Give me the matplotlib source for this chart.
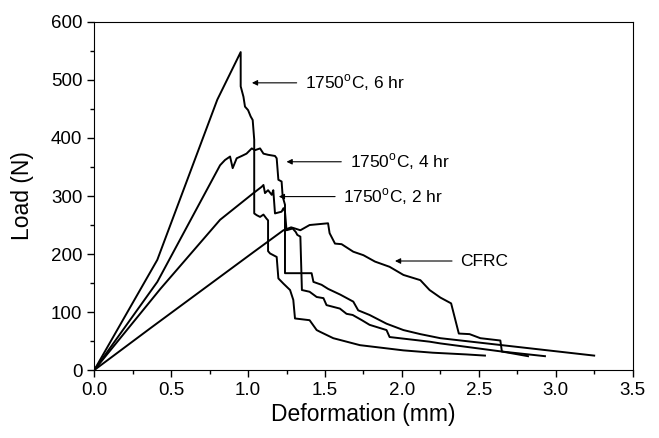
import matplotlib
matplotlib.use("Agg")
import matplotlib.pyplot as plt
from matplotlib.ticker import MultipleLocator

plt.rcParams['font.family'] = ['Liberation Sans', 'DejaVu Sans']
plt.rcParams['mathtext.fontset'] = 'custom'
plt.rcParams['mathtext.rm'] = 'Liberation Sans'

# deformation (mm) / load (N)
d_6hr = [0, 0.41, 0.80, 0.952, 0.952, 0.97, 0.98, 1.00, 1.017, 1.03, 1.04, 1.04, 1.056,
         1.078, 1.10, 1.12, 1.13, 1.13, 1.143, 1.186, 1.197, 1.23, 1.273, 1.294, 1.305,
         1.40, 1.446, 1.468, 1.554, 1.727, 2.01, 2.20, 2.42, 2.54]
L_6hr = [0, 190, 466, 548, 489, 471, 454, 448, 437, 431, 397, 270, 267,
         264, 268, 261, 258, 205, 201, 195, 158, 149, 138, 121, 89,
         86, 69, 66, 55, 43, 34, 30, 27, 25]

d_4hr = [0, 0.41, 0.818, 0.85, 0.883, 0.90, 0.926, 0.959, 0.99, 1.024, 1.045, 1.078,
         1.10, 1.13, 1.175, 1.186, 1.197, 1.218, 1.225, 1.24, 1.24, 1.413, 1.425,
         1.478, 1.52, 1.60, 1.684, 1.716, 1.79, 1.90, 2.01, 2.12, 2.25, 3.25]
L_4hr = [0, 152, 353, 362, 368, 348, 365, 369, 373, 382, 379, 382,
         373, 371, 369, 365, 328, 325, 299, 285, 167, 167, 152,
         147, 140, 130, 118, 103, 95, 80, 69, 62, 55, 25]

d_2hr = [0, 0.43, 0.818, 1.035, 1.089, 1.10, 1.11, 1.13, 1.154, 1.164, 1.175, 1.218,
         1.23, 1.24, 1.25, 1.29, 1.31, 1.32, 1.34, 1.35, 1.40, 1.446, 1.49, 1.51,
         1.597, 1.64, 1.68, 1.74, 1.79, 1.90, 1.92, 2.05, 2.18, 2.25, 2.65, 2.82]
L_2hr = [0, 140, 259, 305, 316, 319, 305, 310, 302, 310, 270, 273,
         279, 273, 241, 244, 238, 233, 230, 138, 135, 126, 124, 112,
         106, 97, 95, 86, 78, 69, 57, 53, 49, 46, 32, 24]

d_cfrc = [0, 0.364, 1.039, 1.23, 1.28, 1.305, 1.34, 1.40, 1.52, 1.53, 1.565, 1.608,
          1.684, 1.75, 1.825, 1.92, 2.01, 2.12, 2.18, 2.25, 2.32, 2.37, 2.44, 2.51,
          2.64, 2.65, 2.93]
L_cfrc = [0, 72, 204, 241, 246, 244, 241, 250, 253, 236, 218, 217,
          204, 198, 187, 178, 164, 155, 138, 125, 115, 63, 62, 55,
          51, 32, 24]

labels = ['1750$^\\mathrm{o}$C, 6 hr', '1750$^\\mathrm{o}$C, 4 hr',
          '1750$^\\mathrm{o}$C, 2 hr', 'CFRC']
arrow_tips = [(1.025, 495), (1.25, 359), (1.20, 299), (1.955, 188)]
text_pos = [(1.37, 495), (1.66, 359), (1.62, 299), (2.38, 188)]

fig = plt.figure(figsize=(6.59, 4.38), dpi=100)
ax = fig.add_axes([0.143, 0.155, 0.817, 0.795])

for d, L in [(d_6hr, L_6hr), (d_4hr, L_4hr), (d_2hr, L_2hr), (d_cfrc, L_cfrc)]:
    ax.plot(d, L, color='black', lw=1.4)

for lab, tip, pos in zip(labels, arrow_tips, text_pos):
    ax.annotate(lab, xy=tip, xytext=pos, ha='left', va='center', fontsize=12.5,
                arrowprops=dict(arrowstyle='-|>', color='black', lw=0.8,
                                mutation_scale=8, shrinkA=4, shrinkB=0))

ax.set_xlim(0, 3.5)
ax.set_ylim(0, 600)
ax.xaxis.set_major_locator(MultipleLocator(0.5))
ax.xaxis.set_minor_locator(MultipleLocator(0.25))
ax.yaxis.set_major_locator(MultipleLocator(100))
ax.yaxis.set_minor_locator(MultipleLocator(50))
ax.xaxis.set_major_formatter(plt.FormatStrFormatter('%.1f'))
ax.tick_params(which='major', direction='out', length=5, width=1, labelsize=13.5)
ax.tick_params(which='minor', direction='out', length=3, width=1)
ax.set_xlabel('Deformation (mm)', fontsize=16.5, labelpad=3)
ax.set_ylabel('Load (N)', fontsize=16.5, labelpad=12)

fig.savefig('out.png', dpi=100)
